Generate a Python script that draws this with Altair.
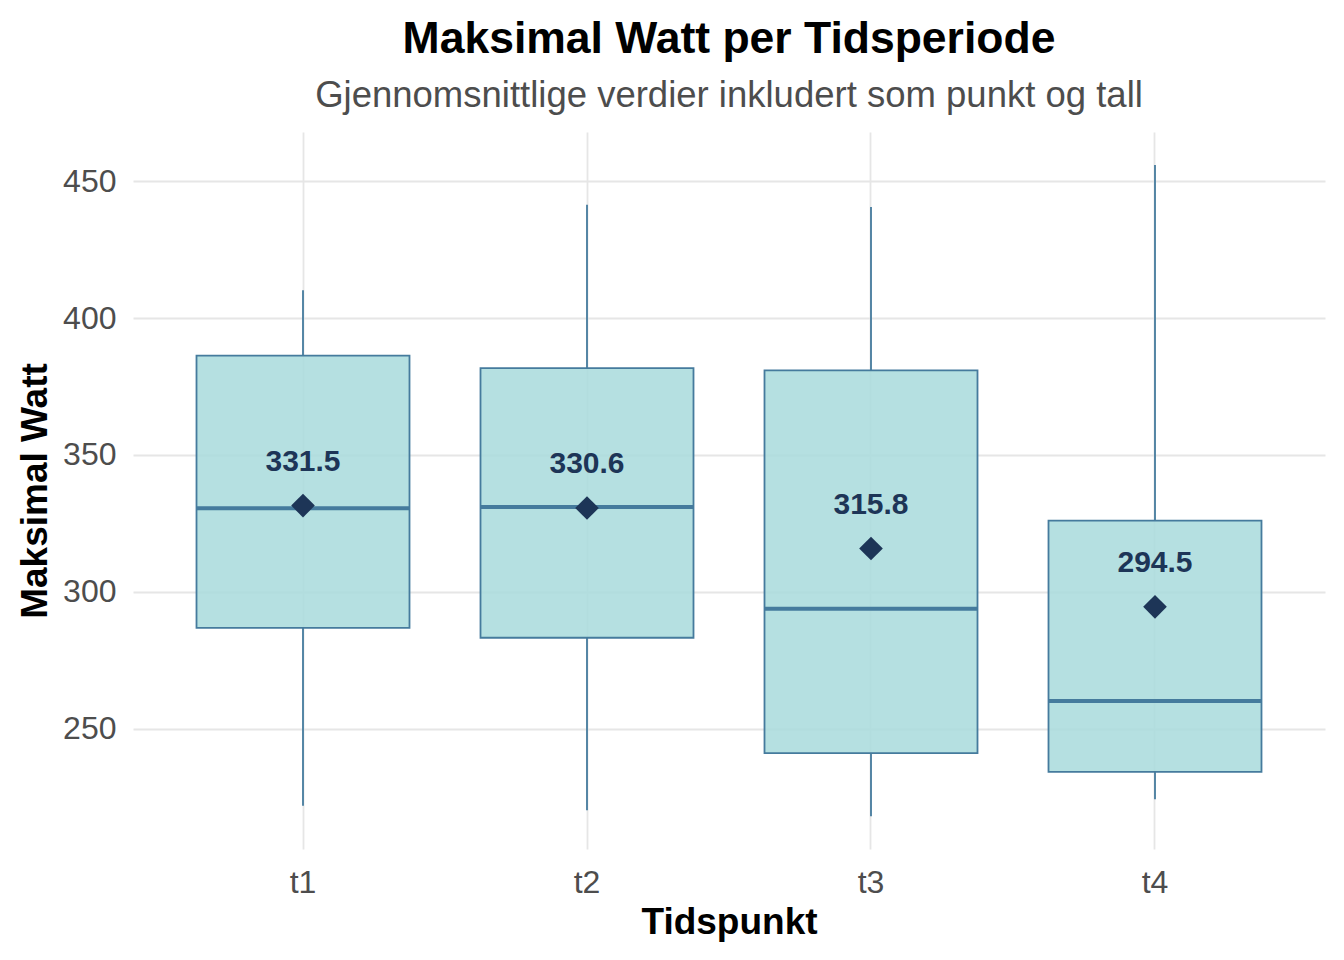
import altair as alt
import pandas as pd

categories = ["t1", "t2", "t3", "t4"]
lower = [221.8, 220.2, 218.0, 224.2]
q1 = [286.8, 283.2, 241.0, 234.2]
median = [330.5, 331.0, 293.8, 260.1]
q3 = [386.3, 381.7, 380.9, 326.0]
upper = [410.2, 441.4, 440.6, 455.9]
means = [331.5, 330.6, 315.8, 294.5]
y_ticks = [250, 300, 350, 400, 450]

df = pd.DataFrame({
    "cat": categories, "lower": lower, "q1": q1, "median": median,
    "q3": q3, "upper": upper, "mean": means,
})

FONT = "Liberation Sans"
BOX_EDGE = "#457b9d"
BOX_FILL = "#a8dadc"
DARK = "#1d3557"


def X():
    return alt.X(
        "cat:N",
        sort=categories,
        scale=alt.Scale(paddingInner=0.25, paddingOuter=0.2236),
        axis=alt.Axis(
            title="Tidspunkt", labelAngle=0, labelFontSize=32, labelColor="#4d4d4d",
            labelFont=FONT, labelPadding=18, ticks=False, tickSize=0, domain=False,
            grid=True, gridColor="#e6e6e6", gridWidth=1.8,
            titleFont=FONT, titleFontSize=37, titleFontWeight="bold", titleColor="black",
            titlePadding=6,
        ),
    )


def Y(field):
    return alt.Y(
        f"{field}:Q",
        scale=alt.Scale(domain=[206, 468], nice=False, zero=False),
        axis=alt.Axis(
            title="Maksimal Watt", values=y_ticks, labelFontSize=32, labelColor="#4d4d4d",
            labelFont=FONT, labelPadding=17, ticks=False, tickSize=0, domain=False,
            grid=True, gridColor="#e6e6e6", gridWidth=1.8,
            titleFont=FONT, titleFontSize=37, titleFontWeight="bold", titleColor="black",
            titlePadding=8,
        ),
    )


base = alt.Chart(df)

whisk_lo = base.mark_rule(color=BOX_EDGE, strokeWidth=1.8).encode(x=X(), y=Y("lower"), y2="q1:Q")
whisk_hi = base.mark_rule(color=BOX_EDGE, strokeWidth=1.8).encode(x=X(), y=Y("q3"), y2="upper:Q")
box = base.mark_bar(fill=BOX_FILL, fillOpacity=0.85, stroke=BOX_EDGE, strokeWidth=1.8).encode(
    x=X(), y=Y("q1"), y2="q3:Q"
)
med = base.mark_tick(color=BOX_EDGE, thickness=4, size=213, opacity=1).encode(x=X(), y=Y("median"))
mean_pt = base.mark_point(shape="diamond", filled=True, size=560, color=DARK, opacity=1).encode(
    x=X(), y=Y("mean")
)
labels = base.mark_text(dy=-44, fontSize=30, fontWeight="bold", color=DARK, font=FONT).encode(
    x=X(), y=Y("mean"), text=alt.Text("mean:Q", format=".1f")
)

chart = alt.layer(whisk_lo, whisk_hi, box, med, mean_pt, labels).properties(
    width=1192,
    height=717,
    autosize=alt.AutoSizeParams(type="none"),
    padding={"left": 125, "top": 124, "right": 11, "bottom": 95},
    title=alt.TitleParams(
        text="Maksimal Watt per Tidsperiode",
        subtitle="Gjennomsnittlige verdier inkludert som punkt og tall",
        anchor="middle", frame="group",
        font=FONT, fontSize=44.5, fontWeight="bold", color="black",
        subtitleFont=FONT, subtitleFontSize=36.5, subtitleColor="#4d4d4d",
        subtitlePadding=15, offset=17,
    ),
).configure(
    background="white",
    view=alt.ViewConfig(stroke="transparent", strokeWidth=0),
)

chart.save("out.html", embed_options={"renderer": "svg", "actions": False})
